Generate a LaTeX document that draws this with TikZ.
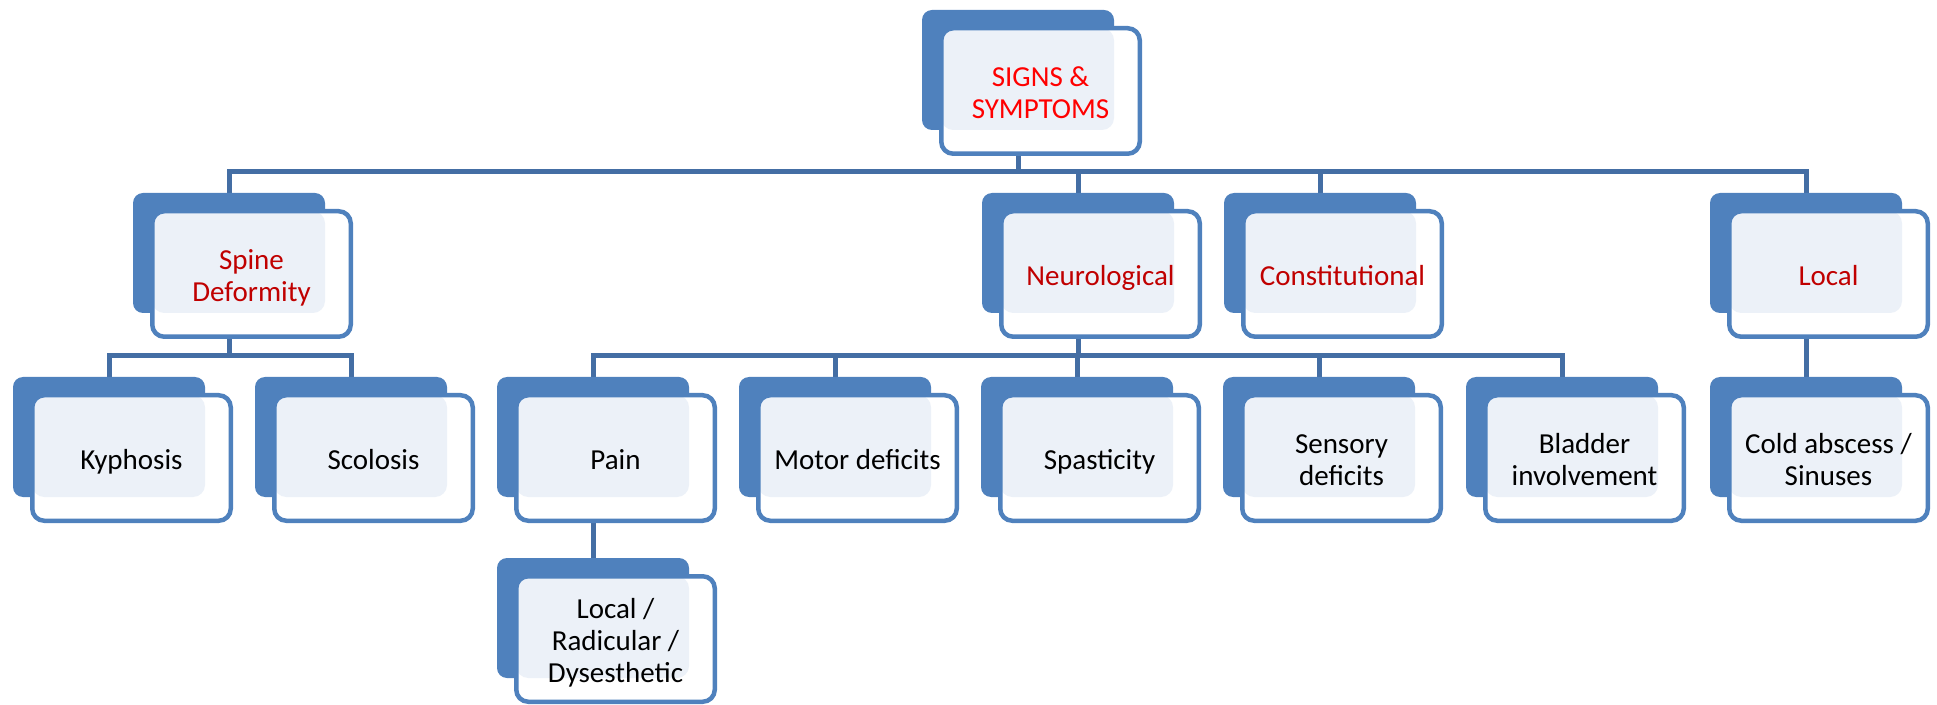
\documentclass[tikz,border=0pt]{standalone}
\usepackage{fontspec}
\setmainfont{Carlito}
\usetikzlibrary{backgrounds}
\definecolor{backblue}{RGB}{79,129,189}
\definecolor{connblue}{RGB}{68,110,164}
\definecolor{texfill}{RGB}{236,241,248}
\definecolor{topred}{RGB}{255,0,0}
\definecolor{lvred}{RGB}{192,0,0}
\tikzset{
  backbox/.style={fill=backblue, rounded corners=5pt, minimum width=96pt, minimum height=60pt, inner sep=0pt, outer sep=0pt},
  frontbox/.style={fill=white, draw=backblue, line width=2.25pt, rounded corners=6pt,
    minimum width=99.25pt, minimum height=62.75pt, inner sep=0pt, outer sep=0pt,
    font=\fontsize{14.5pt}{16pt}\selectfont,
    path picture={\fill[texfill] (path picture bounding box.north west) rectangle ([xshift=36.75pt,yshift=-19.5pt]path picture bounding box.center);}},
  conn/.style={draw=connblue, line width=2.5pt},
  toptext/.style={text=topred},
  lvtext/.style={text=lvred},
  plaintext/.style={text=black}
}
\newcommand{\orgbox}[5]{%
  \node[backbox] (#1-b) at ({#2+96},{#3+60}) {};
  \node[frontbox,#5] (#1) at ({#2+118.5},{#3+81}) {\raisebox{-2.5pt}[\height][\depth]{\begin{tabular}{@{}c@{}}#4\end{tabular}}};
}
\begin{document}
\begin{tikzpicture}[x=0.5pt,y=-0.5pt]
\useasboundingbox (0,0) rectangle (1937,705);
% level 0
\orgbox{top}{922}{10}{SIGNS \&\\SYMPTOMS}{toptext}
% level 1
\orgbox{spine}{133}{193}{Spine\\Deformity}{lvtext}
\orgbox{neuro}{982}{193}{Neurological}{lvtext}
\orgbox{const}{1224}{193}{Constitutional}{lvtext}
\orgbox{local}{1710}{193}{Local}{lvtext}
% level 2
\orgbox{kyph}{13}{377}{Kyphosis}{plaintext}
\orgbox{scol}{255}{377}{Scolosis}{plaintext}
\orgbox{pain}{497}{377}{Pain}{plaintext}
\orgbox{motor}{739}{377}{Motor deficits}{plaintext}
\orgbox{spas}{981}{377}{Spasticity}{plaintext}
\orgbox{sens}{1223}{377}{Sensory\\deficits}{plaintext}
\orgbox{blad}{1466}{377}{Bladder\\involvement}{plaintext}
\orgbox{cold}{1710}{377}{Cold abscess /\\Sinuses}{plaintext}
% level 3
\orgbox{painc}{497}{558}{Local /\\Radicular /\\Dysesthetic}{plaintext}
\coordinate (bar1) at (0,172);
\coordinate (bar2) at (0,356);
\begin{scope}[on background layer]
  \draw[conn] (top-b.center |- top.south) -- (top-b.center |- bar1);
  \draw[conn] (spine-b.north) |- (bar1 -| local-b.north) -- (local-b.north);
  \draw[conn] (neuro-b.north) -- (neuro-b.north |- bar1);
  \draw[conn] (const-b.north) -- (const-b.north |- bar1);
  \draw[conn] (spine-b.center |- spine.south) -- (spine-b.center |- bar2);
  \draw[conn] (kyph-b.north) |- (bar2 -| scol-b.north) -- (scol-b.north);
  \draw[conn] (neuro-b.center |- neuro.south) -- (neuro-b.center |- bar2);
  \draw[conn] (pain-b.north) |- (bar2 -| blad-b.north) -- (blad-b.north);
  \draw[conn] (motor-b.north) -- (motor-b.north |- bar2);
  \draw[conn] (spas-b.north) -- (spas-b.north |- bar2);
  \draw[conn] (sens-b.north) -- (sens-b.north |- bar2);
  \draw[conn] (local-b.center |- local.south) -- (cold-b.north);
  \draw[conn] (pain-b.center |- pain.south) -- (painc-b.north);
\end{scope}
\end{tikzpicture}
\end{document}
